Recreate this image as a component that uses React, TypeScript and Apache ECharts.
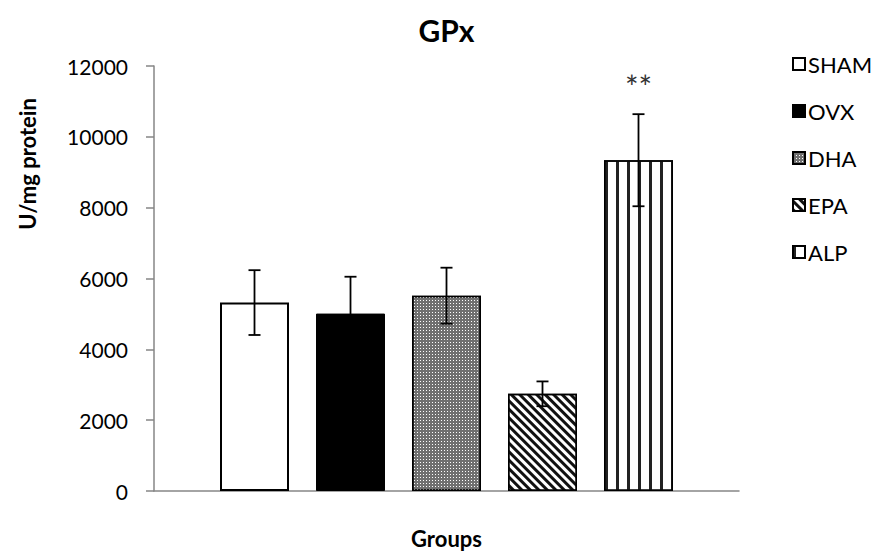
import React, { useEffect, useRef } from "react";
import * as echarts from "echarts";

const groups = ["SHAM", "OVX", "DHA", "EPA", "ALP"];
const means = [5320, 5010, 5515, 2744, 9340];
const errors = [915, 1040, 790, 350, 1300];
const significance = ["", "", "", "", "**"];
const yTicks = { min: 0, max: 12000, interval: 2000 };

const FONT = "Lato";

const barStyles: any[] = [
  { color: "#ffffff", borderColor: "#000", borderWidth: 2 },
  { color: "#000000", borderColor: "#000", borderWidth: 1 },
  {
    color: "#707070",
    borderColor: "#000",
    borderWidth: 1.5,
    decal: {
      symbol: "rect",
      symbolSize: 1,
      color: "#ffffff",
      backgroundColor: "#666666",
      dashArrayX: [1, 2],
      dashArrayY: [1, 2],
    },
  },
  {
    color: "#ffffff",
    borderColor: "#000",
    borderWidth: 1.5,
    decal: {
      symbol: "rect",
      symbolSize: 1,
      color: "#111111",
      backgroundColor: "#ffffff",
      dashArrayX: [1, 0],
      dashArrayY: [3, 3],
      rotation: Math.PI / 4,
    },
  },
  {
    color: "#ffffff",
    borderColor: "#000",
    borderWidth: 1.5,
    decal: {
      symbol: "rect",
      symbolSize: 1,
      color: "#222222",
      backgroundColor: "#ffffff",
      dashArrayX: [3, 8],
      dashArrayY: [1, 0],
    },
  },
];

export default function App() {
  const ref = useRef<HTMLDivElement>(null);
  useEffect(() => {
    if (!ref.current) return;
    const chart = echarts.init(ref.current, undefined, { renderer: "svg" });
    const barSeries = groups.map((g, i) => ({
      name: g,
      type: "bar",
      stack: "all",
      barWidth: 69,
      data: [[i, means[i]]],
      itemStyle: barStyles[i],
      z: 2,
    }));
    const errData = groups.map((g, i) => [i, means[i] - errors[i], means[i] + errors[i], i]);
    const option: any = {
      animation: false,
      backgroundColor: "#ffffff",
      textStyle: { fontFamily: FONT },
      title: {
        text: "GPx",
        left: "center",
        top: 10,
        textStyle: { fontFamily: FONT, fontSize: 30, fontWeight: "bold", color: "#000" },
      },
      legend: {
        orient: "vertical",
        left: 792,
        top: 53,
        padding: 0,
        itemWidth: 12,
        itemHeight: 12,
        itemGap: 25,
        icon: "rect",
        data: groups,
        textStyle: {
          fontFamily: FONT,
          fontSize: 22,
          color: "#000",
          lineHeight: 22,
          padding: [0, 0, 0, -2],
        },
      },
      grid: { left: 154, right: 154, top: 66, bottom: 55 },
      xAxis: {
        type: "value",
        min: -1.046875,
        max: 5.046875,
        axisLine: { show: true, onZero: true, lineStyle: { color: "#868686", width: 1.5 } },
        axisTick: { show: false },
        axisLabel: { show: false },
        splitLine: { show: false },
        name: "Groups",
        nameLocation: "middle",
        nameGap: 36,
        nameTextStyle: { fontFamily: FONT, fontSize: 22, fontWeight: "bold", color: "#000" },
      },
      yAxis: {
        type: "value",
        min: yTicks.min,
        max: yTicks.max,
        interval: yTicks.interval,
        axisLine: { show: true, onZero: false, lineStyle: { color: "#868686", width: 1.5 } },
        axisTick: { show: true, inside: false, length: 8, lineStyle: { color: "#868686", width: 1.5 } },
        axisLabel: {
          fontFamily: FONT,
          fontSize: 21,
          color: "#000",
          margin: 26,
          formatter: (v: number) => String(v),
        },
        splitLine: { show: false },
      },
      graphic: [
        {
          type: "text",
          x: 27,
          y: 164,
          rotation: Math.PI / 2,
          style: {
            text: "U/mg protein",
            fontFamily: FONT,
            fontSize: 22,
            fontWeight: "bold",
            fill: "#000",
            align: "center",
            verticalAlign: "middle",
          },
        },
      ],
      series: [
        ...barSeries,
        {
          type: "custom",
          name: "err",
          z: 5,
          data: errData,
          encode: { x: 0, y: [1, 2] },
          renderItem: (params: any, api: any) => {
            const x = api.value(0);
            const lo = api.value(1);
            const hi = api.value(2);
            const idx = api.value(3);
            const top = api.coord([x, hi]);
            const bot = api.coord([x, lo]);
            const cap = 6;
            const st = { stroke: "#000", lineWidth: 1.8 };
            const children: any[] = [
              { type: "line", shape: { x1: top[0], y1: top[1], x2: bot[0], y2: bot[1] }, style: st },
              { type: "line", shape: { x1: top[0] - cap, y1: top[1], x2: top[0] + cap, y2: top[1] }, style: st },
              { type: "line", shape: { x1: bot[0] - cap, y1: bot[1], x2: bot[0] + cap, y2: bot[1] }, style: st },
            ];
            const sig = significance[idx];
            if (sig) {
              children.push({
                type: "text",
                x: top[0],
                y: top[1] - 28,
                style: {
                  text: sig,
                  fontFamily: FONT,
                  fontSize: 32,
                  fill: "#333",
                  align: "center",
                  verticalAlign: "middle",
                },
              });
            }
            return { type: "group", children };
          },
        },
      ],
    };
    chart.setOption(option);
    return () => chart.dispose();
  }, []);
  return <div ref={ref} style={{ width: 893, height: 554, position: "absolute", left: 0, top: 0 }} />;
}
